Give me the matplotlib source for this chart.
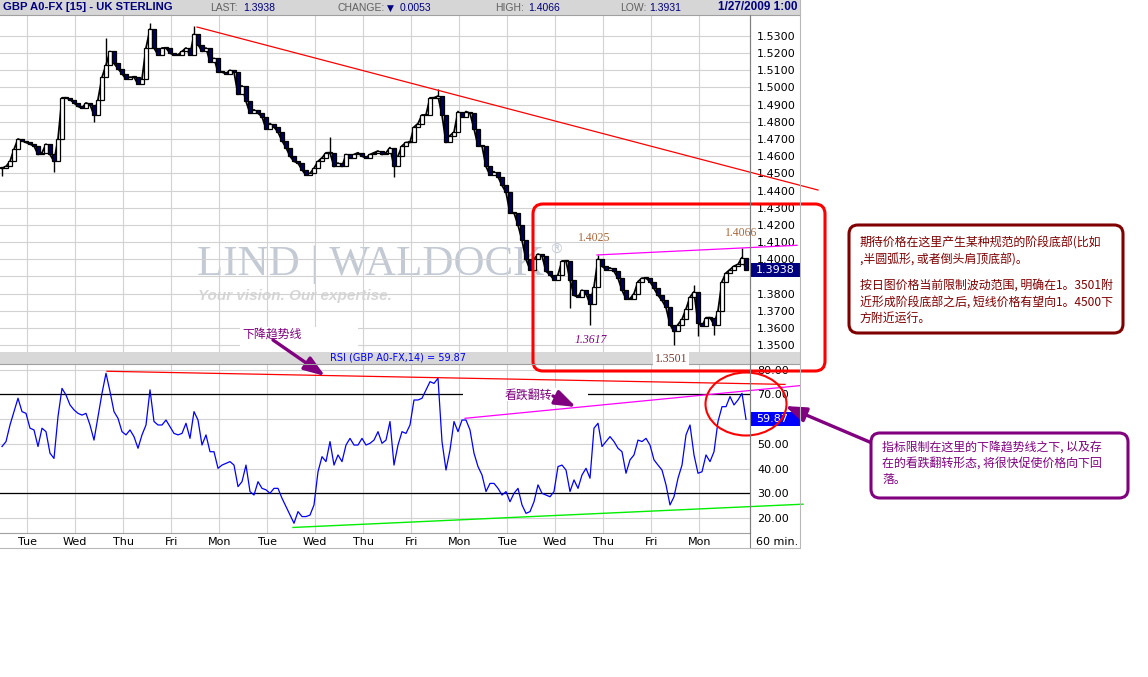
import numpy as np
import matplotlib.pyplot as plt
from matplotlib.patches import Rectangle, FancyBboxPatch, Ellipse, FancyArrowPatch

CJK = ['Noto Sans CJK SC', 'DejaVu Sans']
HEAD = 'Liberation Sans'
NAVY = '#000080'
PURPLE = '#800080'
MAROON = '#800000'

# GBP A0-FX closes, one every two hours
close = [
    1.453, 1.454, 1.457, 1.464, 1.470, 1.469, 1.468, 1.467, 1.466, 1.461,
    1.462, 1.467, 1.461, 1.457, 1.470, 1.494, 1.494, 1.493, 1.491, 1.489,
    1.488, 1.491, 1.490, 1.484, 1.493, 1.506, 1.513, 1.521, 1.514, 1.511,
    1.508, 1.505, 1.506, 1.506, 1.502, 1.505, 1.523, 1.534, 1.523, 1.519,
    1.523, 1.523, 1.520, 1.519, 1.519, 1.521, 1.523, 1.519, 1.531, 1.525,
    1.521, 1.523, 1.515, 1.517, 1.509, 1.509, 1.508, 1.510, 1.509, 1.496,
    1.501, 1.492, 1.485, 1.487, 1.485, 1.483, 1.476, 1.479, 1.477, 1.474,
    1.469, 1.465, 1.460, 1.457, 1.456, 1.452, 1.449, 1.450, 1.453, 1.457,
    1.459, 1.462, 1.462, 1.454, 1.456, 1.454, 1.461, 1.459, 1.461, 1.462,
    1.460, 1.459, 1.461, 1.462, 1.463, 1.461, 1.462, 1.465, 1.454, 1.460,
    1.466, 1.468, 1.468, 1.477, 1.479, 1.484, 1.484, 1.494, 1.494, 1.495,
    1.484, 1.468, 1.472, 1.474, 1.486, 1.483, 1.486, 1.485, 1.476, 1.466,
    1.466, 1.454, 1.449, 1.451, 1.448, 1.443, 1.439, 1.427, 1.427, 1.420,
    1.411, 1.400, 1.394, 1.400, 1.403, 1.402, 1.393, 1.391, 1.388, 1.391,
    1.399, 1.399, 1.388, 1.379, 1.378, 1.382, 1.380, 1.374, 1.384, 1.400,
    1.396, 1.394, 1.395, 1.393, 1.389, 1.382, 1.377, 1.377, 1.380, 1.387,
    1.389, 1.389, 1.387, 1.383, 1.379, 1.376, 1.372, 1.362, 1.358, 1.362,
    1.365, 1.371, 1.378, 1.381, 1.363, 1.361, 1.366, 1.366, 1.362, 1.370,
    1.387, 1.392, 1.394, 1.396, 1.397, 1.401, 1.3938,
]

# RSI(14) on the same bars
rsi = [
    48.9, 50.9, 57.6, 63.0, 68.4, 63.0, 62.3, 56.3, 55.6, 48.9,
    56.3, 54.9, 46.2, 44.1, 61.0, 72.4, 69.7, 65.7, 63.7, 62.3,
    61.6, 62.3, 57.6, 51.5, 61.0, 70.4, 78.5, 71.1, 63.0, 60.3,
    54.9, 53.6, 55.6, 52.9, 48.2, 53.6, 57.6, 71.8, 59.0, 57.6,
    57.6, 59.6, 56.9, 54.2, 53.6, 54.2, 58.3, 52.2, 63.0, 59.6,
    49.5, 53.6, 46.8, 46.8, 40.1, 41.4, 42.1, 42.8, 41.4, 32.7,
    34.7, 41.4, 30.7, 29.3, 34.7, 32.0, 31.4, 30.0, 32.0, 32.0,
    28.0, 24.6, 21.2, 17.9, 22.6, 20.6, 20.6, 21.2, 25.3, 38.7,
    44.8, 42.8, 50.9, 41.4, 45.5, 42.8, 49.5, 52.2, 49.5, 49.5,
    52.2, 49.5, 50.2, 51.5, 54.9, 50.2, 51.5, 59.0, 41.4, 49.5,
    54.9, 54.2, 57.6, 67.7, 67.7, 68.4, 71.8, 75.1, 74.4, 76.5,
    50.9, 39.4, 47.5, 59.0, 54.9, 59.6, 59.6, 55.6, 46.2, 40.8,
    37.4, 30.7, 34.0, 34.0, 32.0, 29.3, 30.7, 26.6, 30.0, 32.0,
    25.3, 21.9, 22.6, 26.6, 33.4, 30.0, 29.3, 28.6, 30.7, 40.8,
    41.4, 39.4, 30.7, 35.4, 32.0, 37.4, 40.1, 36.1, 56.3, 58.3,
    48.9, 50.9, 52.9, 50.9, 48.2, 46.8, 38.1, 43.5, 45.5, 51.5,
    50.9, 52.2, 49.5, 43.5, 41.4, 39.4, 33.4, 25.3, 28.6, 36.1,
    41.4, 53.6, 57.6, 45.5, 38.1, 38.7, 45.5, 42.8, 46.8, 59.0,
    65.0, 65.0, 69.1, 65.7, 67.7, 70.4, 59.87,
]

# bars whose high/low sticks out past the body
wick_hours = [1, 27, 47, 53, 75, 97, 165, 197, 219, 285, 295, 299, 337, 347, 349, 357, 371]
wick_prices = [1.4485, 1.4510, 1.4800, 1.5286, 1.5378, 1.5360, 1.4713, 1.4480, 1.4990,
               1.3716, 1.3617, 1.4025, 1.3501, 1.3852, 1.3552, 1.3560, 1.4066]

days = ['Tue', 'Wed', 'Thu', 'Fri', 'Mon', 'Tue', 'Wed', 'Thu', 'Fri', 'Mon',
        'Tue', 'Wed', 'Thu', 'Fri', 'Mon']

price_ticks = [1.35, 1.36, 1.37, 1.38, 1.39, 1.40, 1.41, 1.42, 1.43, 1.44,
               1.45, 1.46, 1.47, 1.48, 1.49, 1.50, 1.51, 1.52, 1.53]
rsi_ticks = [20, 30, 40, 50, 60, 70, 80]

last_price = 1.3938
change = 0.0053
day_high = 1.4066
day_low = 1.3931
rsi_last = 59.87

# trend lines (hour, value) anchors
down_h, down_p = [98.5, 409.0], [1.5352, 1.4403]
top_h, top_p = [298.5, 371.5], [1.4025, 1.4066]
rsi_down_h, rsi_down_v = [53.5, 392.5], [79.3, 74.0]
rsi_up_h, rsi_up_v = [146.5, 401.5], [16.2, 25.6]
rsi_roll_h, rsi_roll_v = [232.5, 400.0], [60.3, 73.5]

W, H = 1148, 677
fig = plt.figure(figsize=(W / 100, H / 100), dpi=100)


def box(x0, y0, x1, y1):
    return [x0 / W, 1 - y1 / H, (x1 - x0) / W, (y1 - y0) / H]


ax = fig.add_axes(box(0, 15, 750, 352))
ax_r = fig.add_axes(box(0, 364, 750, 533))
ov = fig.add_axes([0, 0, 1, 1])
ov.set_xlim(0, W)
ov.set_ylim(H, 0)
ov.axis('off')

hours = 1 + 2 * np.arange(len(close))
day_pos = 13.65 + 24 * np.arange(len(days))

# ---- price panel ----
ax.set_xlim(0, 375)
ax.set_ylim(1.3460, 1.5422)
ax.set_xticks(day_pos)
# the level under the last-price tag gets no label
ax.set_yticks(price_ticks, ['' if abs(t - last_price) < 0.005 else f'{t:.4f}'
                            for t in price_ticks])
ax.yaxis.tick_right()
ax.tick_params(axis='both', length=0, labelbottom=False, labelsize=8, pad=5)
ax.grid(color='#d2d2d2', lw=0.8)
for s in ['left', 'top', 'bottom']:
    ax.spines[s].set_visible(False)
ax.spines['right'].set_color('#808080')

ax.text(197 / W, 1 - 275 / H, 'LIND | WALDOCK', transform=fig.transFigure,
        family='Liberation Serif', fontsize=31, color='#c3cad4', zorder=1)
ax.text(549 / W, 1 - 254 / H, '\u00ae', transform=fig.transFigure,
        fontsize=10, color='#c3cad4', zorder=1)
ax.text(198 / W, 1 - 300 / H, 'Your vision. Our expertise.', transform=fig.transFigure,
        family='Liberation Sans', fontsize=11, style='italic', weight='bold',
        color='#d6d6d6', zorder=1)

opens = [close[0]] + close[:-1]
idx = {h: i for i, h in enumerate(hours)}
ax.plot(hours, close, color='black', lw=1.3, zorder=3)
for h, w in zip(wick_hours, wick_prices):
    ax.vlines(h, close[idx[h]], w, color='black', lw=1.0, zorder=3)
for h, o, c in zip(hours, opens, close):
    lo, hi = min(o, c), max(o, c)
    ax.add_patch(Rectangle((h - 0.8, lo), 1.6, max(hi - lo, 0.0006),
                           facecolor='white' if c >= o else '#00005a',
                           edgecolor='black', lw=0.9, zorder=4))

ax.plot(down_h, down_p, color='red', lw=0.9, clip_on=False, zorder=5)
slope = (top_p[1] - top_p[0]) / (top_h[1] - top_h[0])
ax.plot([top_h[0], 398.5], [top_p[0], top_p[1] + slope * (398.5 - top_h[1])],
        color='#ff00ff', lw=0.9, clip_on=False, zorder=5)

ax.text(297, 1.4125, '1.4025', family='Liberation Serif', fontsize=8.5,
        color='#a8683a', ha='center', va='center', zorder=6)
ax.text(370.5, 1.4153, '1.4066', family='Liberation Serif', fontsize=8.5,
        color='#a8683a', ha='center', va='center', zorder=6, clip_on=False,
        bbox=dict(boxstyle='square,pad=0.1', fc='white', ec='none'))
ax.text(295.5, 1.3532, '1.3617', family='Liberation Serif', fontsize=8.5,
        style='italic', color=PURPLE, ha='center', va='center', zorder=6)

ax.add_patch(Rectangle((1.0013, last_price - 0.0041), 49 / 750, 0.0082,
                       transform=ax.get_yaxis_transform(), clip_on=False,
                       facecolor=NAVY, edgecolor='none', zorder=6))
ax.text(1.008, last_price, f'{last_price:.4f}', transform=ax.get_yaxis_transform(),
        color='white', fontsize=8, va='center', zorder=7)

# ---- RSI panel ----
ax_r.set_xlim(0, 375)
ax_r.set_ylim(13.96, 82.24)
ax_r.set_xticks(day_pos, days)
ax_r.set_yticks(rsi_ticks, ['' if abs(t - rsi_last) < 5 else f'{t:.2f}'
                            for t in rsi_ticks])
ax_r.yaxis.tick_right()
ax_r.tick_params(axis='both', length=0, labelsize=8)
ax_r.tick_params(axis='y', pad=5)
ax_r.tick_params(axis='x', pad=3)
ax_r.grid(color='#d2d2d2', lw=0.8)
for s in ['left', 'top']:
    ax_r.spines[s].set_visible(False)
ax_r.spines['right'].set_color('#808080')
ax_r.spines['bottom'].set_color('#a0a0a0')
ax_r.axhline(70, color='black', lw=0.9, zorder=2)
ax_r.axhline(30, color='black', lw=0.9, zorder=2)

ax_r.plot(hours, rsi, color='#0000ff', lw=0.9, zorder=4)
ax_r.plot(rsi_down_h, rsi_down_v, color='red', lw=0.9, clip_on=False, zorder=5)
ax_r.plot(rsi_up_h, rsi_up_v, color='#00ee00', lw=1.0, clip_on=False, zorder=5)
ax_r.plot(rsi_roll_h, rsi_roll_v, color='#ff00ff', lw=0.9, clip_on=False, zorder=5)

ax_r.add_patch(Rectangle((1.0013, rsi_last - 2.85), 49 / 750, 5.7,
                         transform=ax_r.get_yaxis_transform(), clip_on=False,
                         facecolor='#0000ff', edgecolor='none', zorder=6))
ax_r.text(1.008, rsi_last, f'{rsi_last:.2f}', transform=ax_r.get_yaxis_transform(),
          color='white', fontsize=8, va='center', zorder=7)

# ---- frame, header and notes ----
ov.add_patch(Rectangle((0, 0), 800, 15, facecolor='#d6d6d6', edgecolor='none'))
ov.plot([0, 800], [15, 15], color='#a0a0a0', lw=0.8)
ov.add_patch(Rectangle((0, 352), 800, 12, facecolor='#d8d8d8', edgecolor='none'))
ov.plot([0, 800], [364, 364], color='#a0a0a0', lw=0.8)
ov.plot([750, 750], [15, 548], color='#808080', lw=0.8)
ov.plot([0, 800, 800], [548, 548, 0], color='#b8b8b8', lw=0.8)

head = dict(family=HEAD, va='center')
ov.text(3, 7.5, 'GBP A0-FX [15] - UK STERLING', weight='bold', fontsize=8.1,
        color=NAVY, **head)
ov.text(210, 8, 'LAST:', fontsize=7.5, color='#606060', **head)
ov.text(243, 8, f'{last_price:.4f}', fontsize=7.5, color=NAVY, **head)
ov.text(337, 8, 'CHANGE:', fontsize=7.5, color='#606060', **head)
ov.text(387, 8, '\u25bc', fontsize=6.5, color=NAVY, va='center')
ov.text(400, 8, f'{change:.4f}', fontsize=7.5, color=NAVY, **head)
ov.text(495, 8, 'HIGH:', fontsize=7.5, color='#606060', **head)
ov.text(528, 8, f'{day_high:.4f}', fontsize=7.5, color=NAVY, **head)
ov.text(620, 8, 'LOW:', fontsize=7.5, color='#606060', **head)
ov.text(649, 8, f'{day_low:.4f}', fontsize=7.5, color=NAVY, **head)
ov.text(797, 7.5, '1/27/2009 1:00', weight='bold', fontsize=8.5, color=NAVY,
        ha='right', family=HEAD, va='center')

ov.text(398, 358, f'RSI (GBP A0-FX,14) = {rsi_last:.2f}', fontsize=7, color='#0000ff',
        ha='center', va='center')
ov.text(671, 358.5, '1.3501', family='Liberation Serif', fontsize=8.5, color='#7a3b2e',
        ha='center', va='center', bbox=dict(boxstyle='square,pad=0.15', fc='white', ec='none'))
ov.text(777, 542, '60 min.', fontsize=8, ha='center', va='center')

ov.add_patch(FancyBboxPatch((533, 204), 292, 167, boxstyle='round,pad=0,rounding_size=10',
                            fill=False, edgecolor='red', lw=2.2))
ov.add_patch(Ellipse((746, 404), 81, 63, fill=False, edgecolor='red', lw=1.5))

ov.add_patch(Rectangle((240, 327), 118, 25, facecolor='white', edgecolor='none'))
ov.text(242, 334, '下降趋势线', family=CJK, fontsize=8.6, color=PURPLE, va='center')
ov.add_patch(Rectangle((463, 388), 125, 13, facecolor='white', edgecolor='none'))
ov.text(505, 395, '看跌翻转', family=CJK, fontsize=8.6, color=PURPLE, va='center')

arrow_kw = dict(arrowstyle='-|>,head_length=0.7,head_width=0.25', mutation_scale=18,
                color=PURPLE, lw=2.4, shrinkA=0, shrinkB=0)
ov.add_patch(FancyArrowPatch((273, 340), (325, 376), **arrow_kw))
ov.add_patch(FancyArrowPatch((553, 396), (576, 407), **arrow_kw))
ov.add_patch(FancyArrowPatch((872, 443), (785, 406), **arrow_kw))

ov.add_patch(FancyBboxPatch((849, 225), 274, 108, boxstyle='round,pad=0,rounding_size=9',
                            facecolor='white', edgecolor=MAROON, lw=2.2))
note1 = ['期待价格在这里产生某种规范的阶段底部(比如',
         ',半圆弧形, 或者倒头肩顶底部)。',
         '',
         '按日图价格当前限制波动范围, 明确在1。3501附',
         '近形成阶段底部之后, 短线价格有望向1。4500下',
         '方附近运行。']
for line, y in zip(note1, [243, 260, 277, 286, 303, 318]):
    ov.text(860, y, line, family=CJK, fontsize=8.6, color=MAROON, va='center')

ov.add_patch(FancyBboxPatch((871, 433), 257, 65, boxstyle='round,pad=0,rounding_size=9',
                            facecolor='white', edgecolor=PURPLE, lw=2.2))
note2 = ['指标限制在这里的下降趋势线之下, 以及存',
         '在的看跌翻转形态, 将很快促使价格向下回',
         '落。']
for line, y in zip(note2, [447, 463, 479]):
    ov.text(882, y, line, family=CJK, fontsize=8.6, color=PURPLE, va='center')

fig.savefig('out.png', dpi=100)
